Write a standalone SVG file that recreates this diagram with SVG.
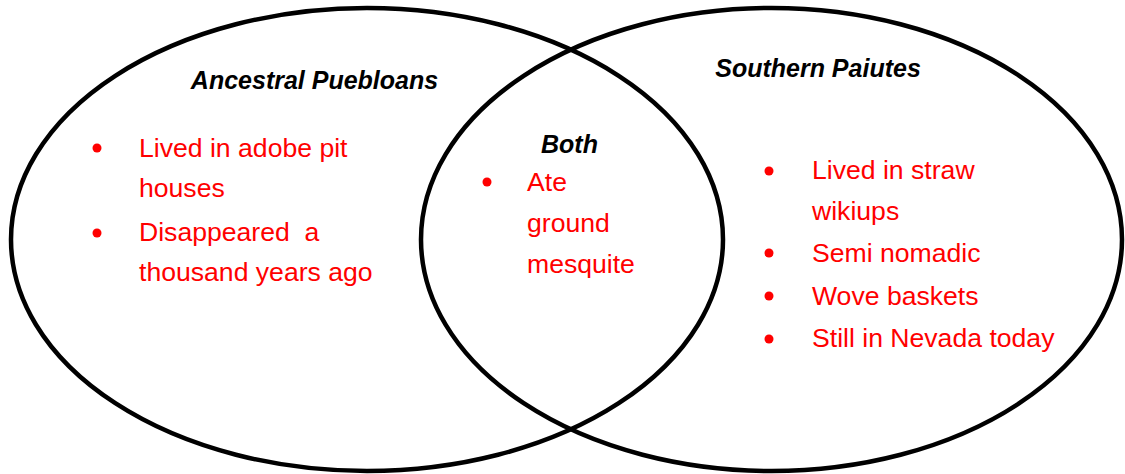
<svg xmlns="http://www.w3.org/2000/svg" width="1125" height="474" viewBox="0 0 1125 474">
<style>
.ring{fill:none;stroke:#000;stroke-width:4.5}
.head{font-family:"Liberation Sans",Arial,sans-serif;font-size:25px;font-weight:bold;font-style:italic;fill:#000;text-anchor:middle}
.item{font-family:"Liberation Sans",Arial,sans-serif;font-size:26.6px;fill:#ff0000}
.dot{fill:#ff0000}
</style>
<rect width="1125" height="474" fill="#fff"/>
<g id="left-set">
<ellipse class="ring" cx="367" cy="239.5" rx="356" ry="231.5"/>
<text class="head" x="314.5" y="89">Ancestral Puebloans</text>
<circle class="dot" cx="97" cy="148" r="4.5"/>
<text class="item" x="139" y="157">Lived in adobe pit</text>
<text class="item" x="139" y="197">houses</text>
<circle class="dot" cx="97" cy="233" r="4.5"/>
<text class="item" x="139" y="241" xml:space="preserve">Disappeared  a</text>
<text class="item" x="139" y="281">thousand years ago</text>
</g>
<g id="right-set">
<ellipse class="ring" cx="771.5" cy="239.5" rx="350.5" ry="231.5"/>
<text class="head" x="818" y="77">Southern Paiutes</text>
<circle class="dot" cx="769" cy="171" r="4.5"/>
<text class="item" x="812" y="179">Lived in straw</text>
<text class="item" x="812" y="220">wikiups</text>
<circle class="dot" cx="769" cy="253" r="4.5"/>
<text class="item" x="812" y="262">Semi nomadic</text>
<circle class="dot" cx="769" cy="296" r="4.5"/>
<text class="item" x="812" y="305">Wove baskets</text>
<circle class="dot" cx="769" cy="339" r="4.5"/>
<text class="item" x="812" y="347">Still in Nevada today</text>
</g>
<g id="overlap">
<text class="head" x="569.5" y="153">Both</text>
<circle class="dot" cx="487" cy="182" r="4.5"/>
<text class="item" x="527" y="191">Ate</text>
<text class="item" x="527" y="232">ground</text>
<text class="item" x="527" y="273">mesquite</text>
</g>
<g id="connectors"></g>
</svg>
